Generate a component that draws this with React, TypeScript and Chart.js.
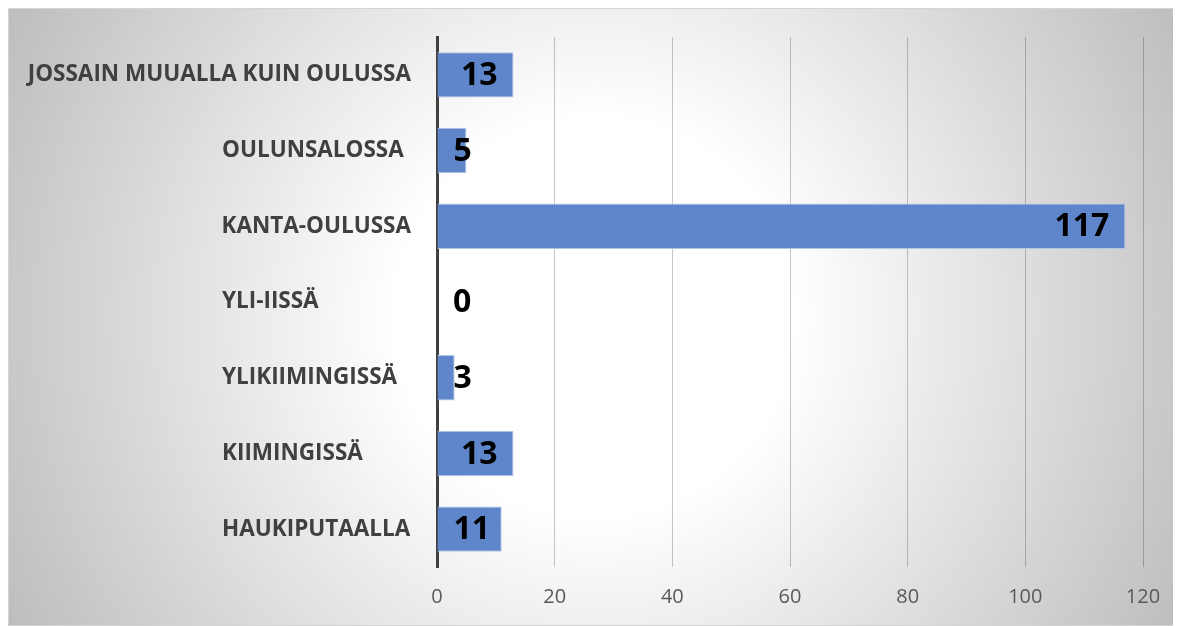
import React, { useEffect, useRef } from "react";
import { Chart, registerables } from "chart.js";

Chart.register(...registerables);

const categories = [
  "JOSSAIN MUUALLA KUIN OULUSSA",
  "OULUNSALOSSA",
  "KANTA-OULUSSA",
  "YLI-IISSÄ",
  "YLIKIIMINGISSÄ",
  "KIIMINGISSÄ",
  "HAUKIPUTAALLA",
];
const values = [13, 5, 117, 0, 3, 13, 11];
const xMin = 0;
const xMax = 120;
const xStep = 20;

const W = 1173;
const H = 618;

const backgroundPlugin = {
  id: "bgGradient",
  beforeDraw(chart: any) {
    const { ctx, width, height } = chart;
    ctx.save();
    const cx = width / 2;
    const cy = height / 2;
    const r = Math.sqrt(cx * cx + cy * cy);
    const g = ctx.createRadialGradient(cx, cy, 0, cx, cy, r);
    g.addColorStop(0, "#ffffff");
    g.addColorStop(0.3, "#ffffff");
    g.addColorStop(1, "#bdbdbd");
    ctx.fillStyle = g;
    ctx.fillRect(0, 0, width, height);
    ctx.strokeStyle = "#d4d4d4";
    ctx.lineWidth = 1;
    ctx.strokeRect(0.5, 0.5, width - 1, height - 1);
    ctx.restore();
  },
};

const categoryLabelPlugin = {
  id: "catLabels",
  afterDraw(chart: any) {
    const { ctx, chartArea } = chart;
    const yScale = chart.scales.y;
    ctx.save();
    ctx.font = "bold 22.5px 'Open Sans'";
    ctx.fillStyle = "#404040";
    ctx.textBaseline = "middle";
    ctx.textAlign = "left";
    const leftX = 214;
    const maxRight = chartArea.left - 26;
    categories.forEach((c, i) => {
      const w = ctx.measureText(c).width;
      const x = Math.min(leftX, maxRight - w);
      ctx.fillText(c, x, yScale.getPixelForTick(i));
    });
    ctx.restore();
  },
};

const valueLabelPlugin = {
  id: "valLabels",
  afterDatasetsDraw(chart: any) {
    const { ctx } = chart;
    const meta = chart.getDatasetMeta(0);
    ctx.save();
    ctx.font = "bold 32px 'Open Sans'";
    ctx.fillStyle = "#000000";
    ctx.textBaseline = "middle";
    ctx.textAlign = "right";
    meta.data.forEach((el: any, i: number) => {
      const t = String(values[i]);
      const w = ctx.measureText(t).width;
      const right = Math.max(el.x - 16, el.base + w + 16);
      ctx.fillText(t, right, el.y + 1);
    });
    ctx.restore();
  },
};

export default function App() {
  const ref = useRef<HTMLCanvasElement | null>(null);
  useEffect(() => {
    document.documentElement.style.overflow = "hidden";
    document.body.style.overflow = "hidden";
    const canvas = ref.current;
    if (!canvas) return;
    const chart = new Chart(canvas, {
      type: "bar",
      data: {
        labels: categories,
        datasets: [
          {
            data: values,
            backgroundColor: "#5f86cb",
            borderColor: "#b3c6e8",
            borderWidth: 1,
            barPercentage: 0.6,
            categoryPercentage: 1,
          },
        ],
      },
      plugins: [backgroundPlugin, valueLabelPlugin, categoryLabelPlugin],
      options: {
        indexAxis: "y",
        responsive: false,
        animation: false,
        layout: { padding: { left: 429, right: 38, top: 29, bottom: 17 } },
        plugins: { legend: { display: false }, tooltip: { enabled: false } },
        scales: {
          x: {
            min: xMin,
            max: xMax,
            afterFit(scale: any) {
              scale.height = 42;
            },
            ticks: {
              stepSize: xStep,
              padding: 18,
              color: "#595959",
              font: { family: "'Open Sans'", size: 20 },
            },
            grid: { color: "rgba(0,0,0,0.22)", lineWidth: 1, drawTicks: false },
            border: { display: false },
          },
          y: {
            ticks: { display: false },
            grid: { display: false, drawTicks: false },
            border: { display: true, color: "#404040", width: 3 },
          },
        },
      },
    });
    return () => chart.destroy();
  }, []);
  return (
    <div style={{ width: W, height: H }}>
      <canvas ref={ref} width={W} height={H} style={{ display: "block", width: W, height: H }} />
    </div>
  );
}
